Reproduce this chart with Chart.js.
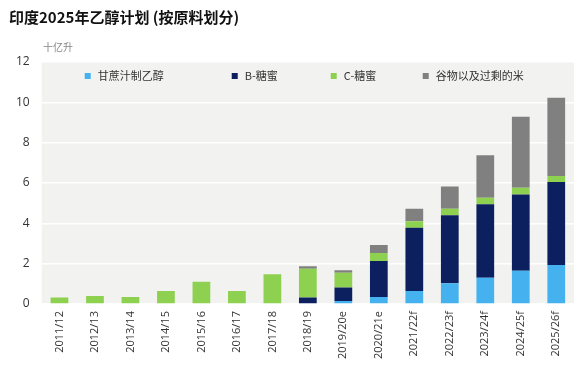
<!DOCTYPE html>
<html>
<head>
<meta charset="utf-8">
<script src="https://cdn.jsdelivr.net/npm/chart.js@4"></script>
<style>
  html, body { margin: 0; padding: 0; background: #ffffff; }
  #wrap { position: relative; width: 586px; height: 367px; }
  #title { position: absolute; left: 9px; top: 6px; font: bold 15px "Noto Sans CJK SC", sans-serif; color: #111; white-space: nowrap; }
  #unit { position: absolute; left: 43px; top: 39px; font: 10px "Noto Sans CJK SC", sans-serif; color: #888; white-space: nowrap; }
  canvas { position: absolute; left: 0; top: 0; }
</style>
</head>
<body>
<div id="wrap">
  <canvas id="c" width="586" height="367"></canvas>
  <div id="title">印度2025年乙醇计划 (按原料划分)</div>
  <div id="unit">十亿升</div>
</div>
<script>
const categories = ["2011/12","2012/13","2013/14","2014/15","2015/16","2016/17","2017/18","2018/19","2019/20e","2020/21e","2021/22f","2022/23f","2023/24f","2024/25f","2025/26f"];
const seriesNames = ["甘蔗汁制乙醇","B-糖蜜","C-糖蜜","谷物以及过剩的米"];
const caneJuice = [0,0,0,0,0,0,0,0,0.15,0.35,0.65,1.03,1.30,1.65,1.93];
const bMolasses = [0,0,0,0,0,0,0,0.32,0.67,1.78,3.13,3.37,3.65,3.78,4.12];
const cMolasses = [0.32,0.40,0.35,0.65,1.10,0.65,1.48,1.43,0.73,0.40,0.32,0.32,0.32,0.34,0.30];
const grainRice = [0,0,0,0,0,0,0,0.12,0.13,0.40,0.62,1.11,2.11,3.51,3.88];
const yTicks = [0,2,4,6,8,10,12];
const colors = ["#45b2ef","#0c2060","#8ed150","#808080"];

const plotBg = {
  id: 'plotBg',
  beforeDraw(chart) {
    const {ctx, chartArea: a} = chart;
    ctx.save();
    ctx.fillStyle = '#f2f2f0';
    ctx.fillRect(a.left, a.top, a.right - a.left, a.bottom - a.top);
    ctx.restore();
  }
};

// legend drawn inside the plot area, item offsets from chart area left
const legendOffsets = [43, 190, 289, 381];
const innerLegend = {
  id: 'innerLegend',
  afterDraw(chart) {
    const {ctx, chartArea: a} = chart;
    ctx.save();
    ctx.font = '11px "Noto Sans CJK SC", sans-serif';
    ctx.textBaseline = 'middle';
    const y = a.top + 14;
    chart.data.datasets.forEach((ds, i) => {
      const x = a.left + legendOffsets[i];
      ctx.fillStyle = ds.backgroundColor;
      ctx.fillRect(x, y - 3, 6, 6);
      ctx.fillStyle = '#333';
      ctx.fillText(ds.label, x + 13, y);
    });
    ctx.restore();
  }
};

const dataSets = [caneJuice, bMolasses, cMolasses, grainRice].map((d, i) => ({
  label: seriesNames[i],
  data: d,
  backgroundColor: colors[i],
  borderWidth: 0,
  barPercentage: 0.5,
  categoryPercentage: 1.0
}));

new Chart(document.getElementById('c'), {
  type: 'bar',
  data: { labels: categories, datasets: dataSets },
  plugins: [plotBg, innerLegend],
  options: {
    responsive: false,
    animation: false,
    layout: { padding: { top: 62, left: 4, right: 12, bottom: 1 } },
    plugins: {
      title: { display: false },
      tooltip: { enabled: false },
      legend: { display: false }
    },
    scales: {
      x: {
        stacked: true,
        grid: { display: false, drawTicks: false },
        border: { display: false },
        ticks: {
          maxRotation: 90, minRotation: 90, autoSkip: false,
          padding: 7,
          color: '#333',
          font: { family: '"Open Sans", sans-serif', size: 11 }
        }
      },
      y: {
        stacked: true,
        min: 0, max: 12,
        afterBuildTicks(axis) { axis.ticks = yTicks.map(v => ({ value: v })); },
        grid: { color: '#ffffff', lineWidth: 1.5, drawTicks: false },
        border: { display: false },
        ticks: {
          padding: 12,
          color: '#333',
          font: { family: '"Open Sans", sans-serif', size: 12 }
        }
      }
    }
  }
});
</script>
</body>
</html>
